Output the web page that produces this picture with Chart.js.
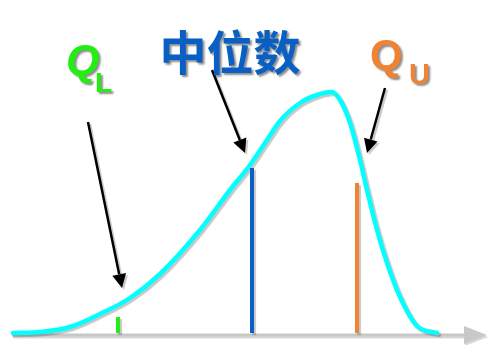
<!DOCTYPE html>
<html>
<head>
<meta charset="utf-8">
<script src="https://cdn.jsdelivr.net/npm/chart.js@4/dist/chart.umd.min.js"></script>
<style>
  html, body { margin: 0; background: #fff; }
  #wrap { width: 489px; height: 345px; }
</style>
</head>
<body>
<div id="wrap"><canvas id="chart"></canvas></div>
<script>
// skewed distribution curve (x, height above axis)
const curveX = [13, 40, 70, 100, 130, 160, 200, 230, 250, 267, 280, 300, 317, 332, 340, 350, 360, 367, 377, 387, 400, 417, 437];
const curveY = [2, 3, 8, 21, 37, 61, 105, 145, 170, 195, 214, 232, 240, 243, 235, 212, 175, 145, 105, 72, 38, 9, 2];

// quartile markers
const quartileX = [118, 252, 357];
const quartileH = [18, 167, 152];
const quartileColors = ['#22ee11', '#0a5fc4', '#f08234'];

const shadow = {
  id: 'shadow',
  beforeDatasetDraw(chart) {
    const ctx = chart.ctx;
    ctx.save();
    ctx.shadowColor = 'rgba(0,0,0,0.22)';
    ctx.shadowOffsetX = 2;
    ctx.shadowOffsetY = 2;
    ctx.shadowBlur = 1;
  },
  afterDatasetDraw(chart) {
    chart.ctx.restore();
  }
};

function arrow(ctx, x1, y1, x2, y2) {
  const a = Math.atan2(y2 - y1, x2 - x1);
  const len = 14, w = 7;
  const bx = x2 - len * Math.cos(a), by = y2 - len * Math.sin(a);
  ctx.beginPath();
  ctx.moveTo(x1, y1);
  ctx.lineTo(bx, by);
  ctx.stroke();
  ctx.beginPath();
  ctx.moveTo(x2, y2);
  ctx.lineTo(bx + w * Math.sin(a), by - w * Math.cos(a));
  ctx.lineTo(bx - w * Math.sin(a), by + w * Math.cos(a));
  ctx.closePath();
  ctx.fill();
}

const decor = {
  id: 'decor',
  beforeDatasetsDraw(chart) {
    // horizontal axis with arrow head
    const { ctx, scales: { x, y } } = chart;
    const y0 = y.getPixelForValue(0);
    ctx.save();
    ctx.shadowColor = 'rgba(0,0,0,0.15)';
    ctx.shadowOffsetX = 1;
    ctx.shadowOffsetY = 2;
    ctx.strokeStyle = '#c8c8c8';
    ctx.fillStyle = '#c8c8c8';
    ctx.lineWidth = 3;
    ctx.beginPath();
    ctx.moveTo(x.getPixelForValue(12), y0);
    ctx.lineTo(x.getPixelForValue(468), y0);
    ctx.stroke();
    ctx.beginPath();
    ctx.moveTo(x.getPixelForValue(487), y0);
    ctx.lineTo(x.getPixelForValue(464), y0 - 9);
    ctx.lineTo(x.getPixelForValue(464), y0 + 9);
    ctx.closePath();
    ctx.fill();
    ctx.restore();
  },
  afterDatasetsDraw(chart) {
    const { ctx, scales: { x, y } } = chart;
    const px = v => x.getPixelForValue(v), py = v => y.getPixelForValue(v);
    ctx.save();
    ctx.shadowColor = 'rgba(0,0,0,0.2)';
    ctx.shadowOffsetX = 2;
    ctx.shadowOffsetY = 2;
    ctx.strokeStyle = '#000';
    ctx.fillStyle = '#000';
    ctx.lineWidth = 2.5;
    arrow(ctx, px(88), py(213), px(122), py(47));
    arrow(ctx, px(212), py(265), px(245), py(182));
    arrow(ctx, px(385), py(247), px(367), py(182));

    // labels
    ctx.shadowColor = 'rgba(0,0,0,0.45)';
    ctx.shadowOffsetX = 2;
    ctx.shadowOffsetY = 2;
    ctx.shadowBlur = 2;
    ctx.textBaseline = 'alphabetic';
    ctx.textAlign = 'left';

    ctx.fillStyle = quartileColors[0];
    ctx.font = 'italic bold 43px "Liberation Sans"';
    ctx.fillText('Q', px(66), py(261));
    ctx.font = 'bold 28px "Liberation Sans"';
    ctx.fillText('L', px(95), py(243));

    ctx.fillStyle = quartileColors[1];
    ctx.font = 'bold 47px "Noto Sans CJK SC"';
    ctx.textAlign = 'center';
    ctx.textBaseline = 'middle';
    ctx.fillText('中位数', px(230), py(283));

    ctx.textAlign = 'left';
    ctx.textBaseline = 'alphabetic';
    ctx.fillStyle = quartileColors[2];
    ctx.font = 'bold 42px "Liberation Sans"';
    ctx.fillText('Q', px(370), py(266));
    ctx.font = 'bold 29px "Liberation Sans"';
    ctx.fillText('U', px(409), py(251));
    ctx.restore();
  }
};

const quartileSets = quartileX.map((qx, i) => ({
  data: [{ x: qx, y: 2 }, { x: qx, y: quartileH[i] }],
  borderColor: quartileColors[i],
  borderWidth: 4,
  pointRadius: 0,
  borderCapStyle: 'butt'
}));

new Chart(document.getElementById('chart'), {
  type: 'line',
  data: {
    datasets: [
      ...quartileSets,
      {
        data: curveX.map((v, i) => ({ x: v, y: curveY[i] })),
        borderColor: '#00ffff',
        borderWidth: 4.5,
        pointRadius: 0,
        cubicInterpolationMode: 'monotone',
        borderCapStyle: 'round',
        borderJoinStyle: 'round'
      }
    ]
  },
  options: {
    responsive: true,
    maintainAspectRatio: false,
    animation: false,
    layout: { padding: 0 },
    plugins: { legend: { display: false }, tooltip: { enabled: false } },
    scales: {
      x: { type: 'linear', min: 0, max: 489, display: false },
      y: { type: 'linear', min: -10, max: 335, display: false }
    }
  },
  plugins: [shadow, decor]
});
</script>
</body>
</html>
